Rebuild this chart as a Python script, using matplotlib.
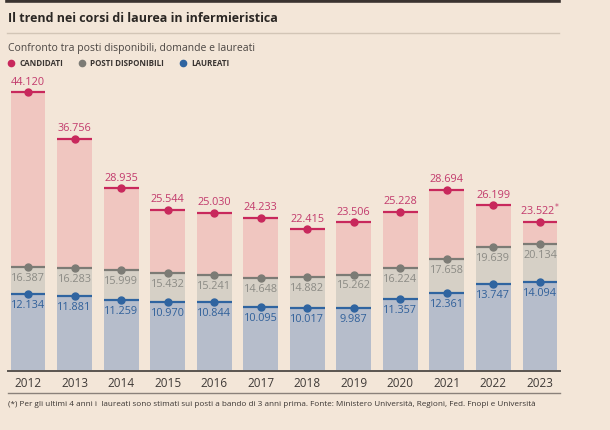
import matplotlib
matplotlib.use("Agg")
import matplotlib.pyplot as plt
from matplotlib.lines import Line2D

years = ["2012", "2013", "2014", "2015", "2016", "2017", "2018", "2019", "2020", "2021", "2022", "2023"]
candidati = [44120, 36756, 28935, 25544, 25030, 24233, 22415, 23506, 25228, 28694, 26199, 23522]
posti = [16387, 16283, 15999, 15432, 15241, 14648, 14882, 15262, 16224, 17658, 19639, 20134]
laureati = [12134, 11881, 11259, 10970, 10844, 10095, 10017, 9987, 11357, 12361, 13747, 14094]
cand_labels = ["44.120", "36.756", "28.935", "25.544", "25.030", "24.233", "22.415", "23.506", "25.228", "28.694", "26.199", r"23.522$^{*}$"]
posti_labels = ["16.387", "16.283", "15.999", "15.432", "15.241", "14.648", "14.882", "15.262", "16.224", "17.658", "19.639", "20.134"]
laur_labels = ["12.134", "11.881", "11.259", "10.970", "10.844", "10.095", "10.017", "9.987", "11.357", "12.361", "13.747", "14.094"]

BG = "#f3e6d8"
W, H = 610, 431
plt.rcParams['font.family'] = ['Open Sans', 'DejaVu Sans']
fig = plt.figure(figsize=(W / 100, H / 100), dpi=100, facecolor=BG)

def fx(px):
    return px / W

def fy(py):
    return 1 - py / H

# header
fig.add_artist(Line2D([fx(7), fx(559)], [fy(2), fy(2)], color="#3a3330", lw=2.6))
fig.text(fx(8), fy(19), "Il trend nei corsi di laurea in infermieristica", fontsize=9,
         fontweight="bold", color="#2b2724", va="center", ha="left")
fig.add_artist(Line2D([fx(7), fx(559)], [fy(34), fy(34)], color="#d2c5b6", lw=1.0))
fig.text(fx(8), fy(48), "Confronto tra posti disponibili, domande e laureati", fontsize=7.5,
         color="#4a4542", va="center", ha="left")

c_cand, c_posti, c_laur = "#c8285c", "#7c7b75", "#2f64a0"
for x, col, lab in [(11, c_cand, "CANDIDATI"), (82, c_posti, "POSTI DISPONIBILI"), (183, c_laur, "LAUREATI")]:
    fig.add_artist(Line2D([fx(x)], [fy(64)], marker="o", markersize=4.5, color=col, lw=0))
    fig.text(fx(x + 8), fy(64), lab, fontsize=5.8, fontweight="bold", color="#3a3532",
             va="center", ha="left")

# chart axes
ax_left, ax_right = 4.75, 563.25
ax_top, ax_bottom = 80, 372
ax = fig.add_axes([fx(ax_left), fy(ax_bottom), (ax_right - ax_left) / W, (ax_bottom - ax_top) / H])
ax.set_facecolor(BG)
ax.set_xlim(-0.5, len(years) - 0.5)
ax.set_ylim(0, 46200)
for s in ax.spines.values():
    s.set_visible(False)
ax.set_xticks([])
ax.set_yticks([])

xs = list(range(len(years)))
bw = 0.75
ax.bar(xs, candidati, width=bw, color="#f0c6c0", zorder=1)
ax.bar(xs, posti, width=bw, color="#d6d0c6", zorder=2)
ax.bar(xs, laureati, width=bw, color="#b6bdcb", zorder=3)

for vals, col in [(candidati, c_cand), (posti, c_posti), (laureati, c_laur)]:
    for x, v in zip(xs, vals):
        ax.plot([x - bw / 2, x + bw / 2], [v, v], color=col, lw=1.6, zorder=5, solid_capstyle="butt")
        ax.plot([x], [v], marker="o", markersize=5, color=col, zorder=6)

for x, v, lab in zip(xs, candidati, cand_labels):
    ax.annotate(lab, (x, v), xytext=(0, 4), textcoords="offset points", ha="center", va="bottom",
                fontsize=7.8, color="#c23a6c", zorder=7)
for x, v, lab in zip(xs, posti, posti_labels):
    ax.annotate(lab, (x, v), xytext=(0, -3.5), textcoords="offset points", ha="center", va="top",
                fontsize=7.8, color="#8c8b85", zorder=7)
for x, v, lab in zip(xs, laureati, laur_labels):
    ax.annotate(lab, (x, v), xytext=(0, -3.5), textcoords="offset points", ha="center", va="top",
                fontsize=7.8, color="#30609a", zorder=7)

# axis lines and years
fig.add_artist(Line2D([fx(8), fx(560)], [fy(372), fy(372)], color="#5a5550", lw=1.4))
for x, y in zip(xs, years):
    px = ax_left + (x + 0.5) * (ax_right - ax_left) / len(years)
    fig.text(fx(px), fy(384), y, fontsize=8.5, color="#3f3a37", ha="center", va="center")
fig.add_artist(Line2D([fx(8), fx(560)], [fy(394), fy(394)], color="#8a817a", lw=1.0))
fig.text(fx(8), fy(405), "(*) Per gli ultimi 4 anni i  laureati sono stimati sui posti a bando di 3 anni prima. "
         "Fonte: Ministero Università, Regioni, Fed. Fnopi e Università",
         fontsize=5.9, color="#3a3532", ha="left", va="center")

fig.savefig("out.png", dpi=100, facecolor=BG)
